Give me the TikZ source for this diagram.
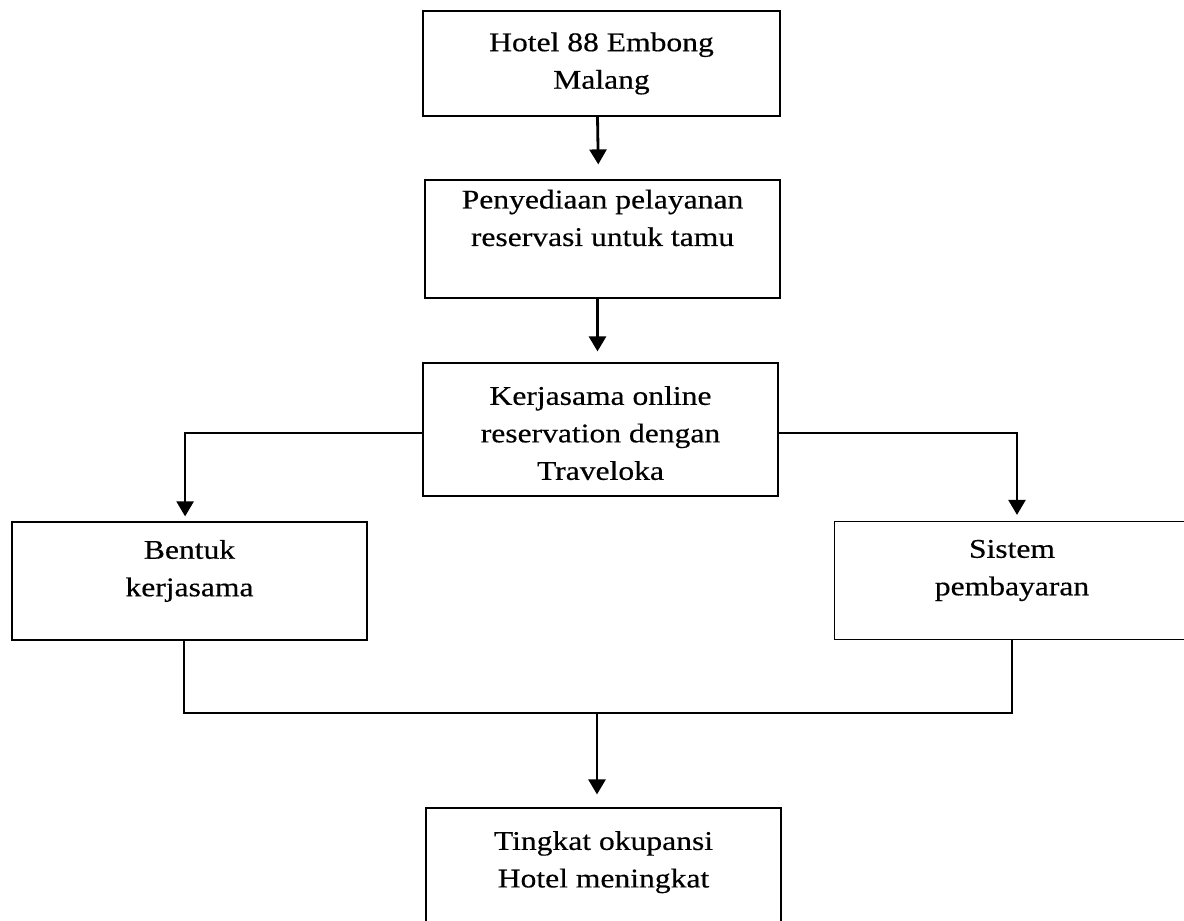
\documentclass[tikz,border=0pt]{standalone}
\usepackage{fontspec}
\setmainfont[FakeStretch=1.17, FakeBold=0.4]{Liberation Serif}
\usetikzlibrary{arrows.meta}

\begin{document}
\begin{tikzpicture}[
  x=0.5pt, y=-0.5pt,
  box/.style={rectangle, draw, line width=0.6pt, minimum width=177.5pt,
              minimum height=59pt, inner sep=0pt},
  txt/.style={align=center, inner sep=0pt, font=\fontsize{13.5}{18.75}\selectfont},
  arrow/.style={-{Triangle[length=7.5pt, width=8.5pt]}, line width=1.4pt},
  link/.style={line width=1.1pt}
]
  \path[use as bounding box, clip] (0,0) rectangle (1184,921);

  % main column
  \node[box, minimum width=178.5pt, minimum height=52.5pt,
        label={[txt]center:{Hotel 88 Embong\\Malang}}] (hotel) at (601.5,63.5) {};
  \node[box, label={[txt, yshift=10.5pt]center:{Penyediaan pelayanan\\reservasi untuk tamu}}]
        (sedia) at (602.5,239) {};
  \node[box, minimum height=66.5pt,
        label={[txt, yshift=-1.8pt]center:{Kerjasama online\\reservation dengan\\Traveloka}}]
        (kerja) at (600.5,429.5) {};

  % the two branches
  \node[box, label={[txt, yshift=5pt]center:{Bentuk\\kerjasama}}] (bentuk) at (189.5,581) {};
  \node[box, label={[txt, yshift=5pt]center:{Sistem\\pembayaran}}] (sistem) at (1012,580.5) {};

  \node[box, label={[txt, yshift=2.4pt]center:{Tingkat okupansi\\Hotel meningkat}}]
        (okup) at (603.5,867) {};

  \coordinate (merge) at (597,713);

  \draw[arrow, shorten >=7.5pt] ([xshift=-2pt]hotel.south) -- ([xshift=-2pt]sedia.north);
  \draw[arrow, shorten >=5.5pt] ([xshift=-2.5pt]sedia.south) -- ([xshift=-2.5pt]sedia.south |- kerja.north);
  \draw[arrow, line width=1.2pt, shorten >=2.5pt] ([yshift=-1.75pt]kerja.west) -| ([xshift=-2.2pt]bentuk.north);
  \draw[arrow, line width=1.2pt, shorten >=3pt] ([yshift=-1.75pt]kerja.east) -| ([xshift=2.5pt]sistem.north);
  \draw[link] ([xshift=-2.7pt]bentuk.south) |- (merge) -| (sistem.south);
  \draw[arrow, shorten >=6.5pt] (merge) -- (merge |- okup.north);
\end{tikzpicture}
\end{document}
